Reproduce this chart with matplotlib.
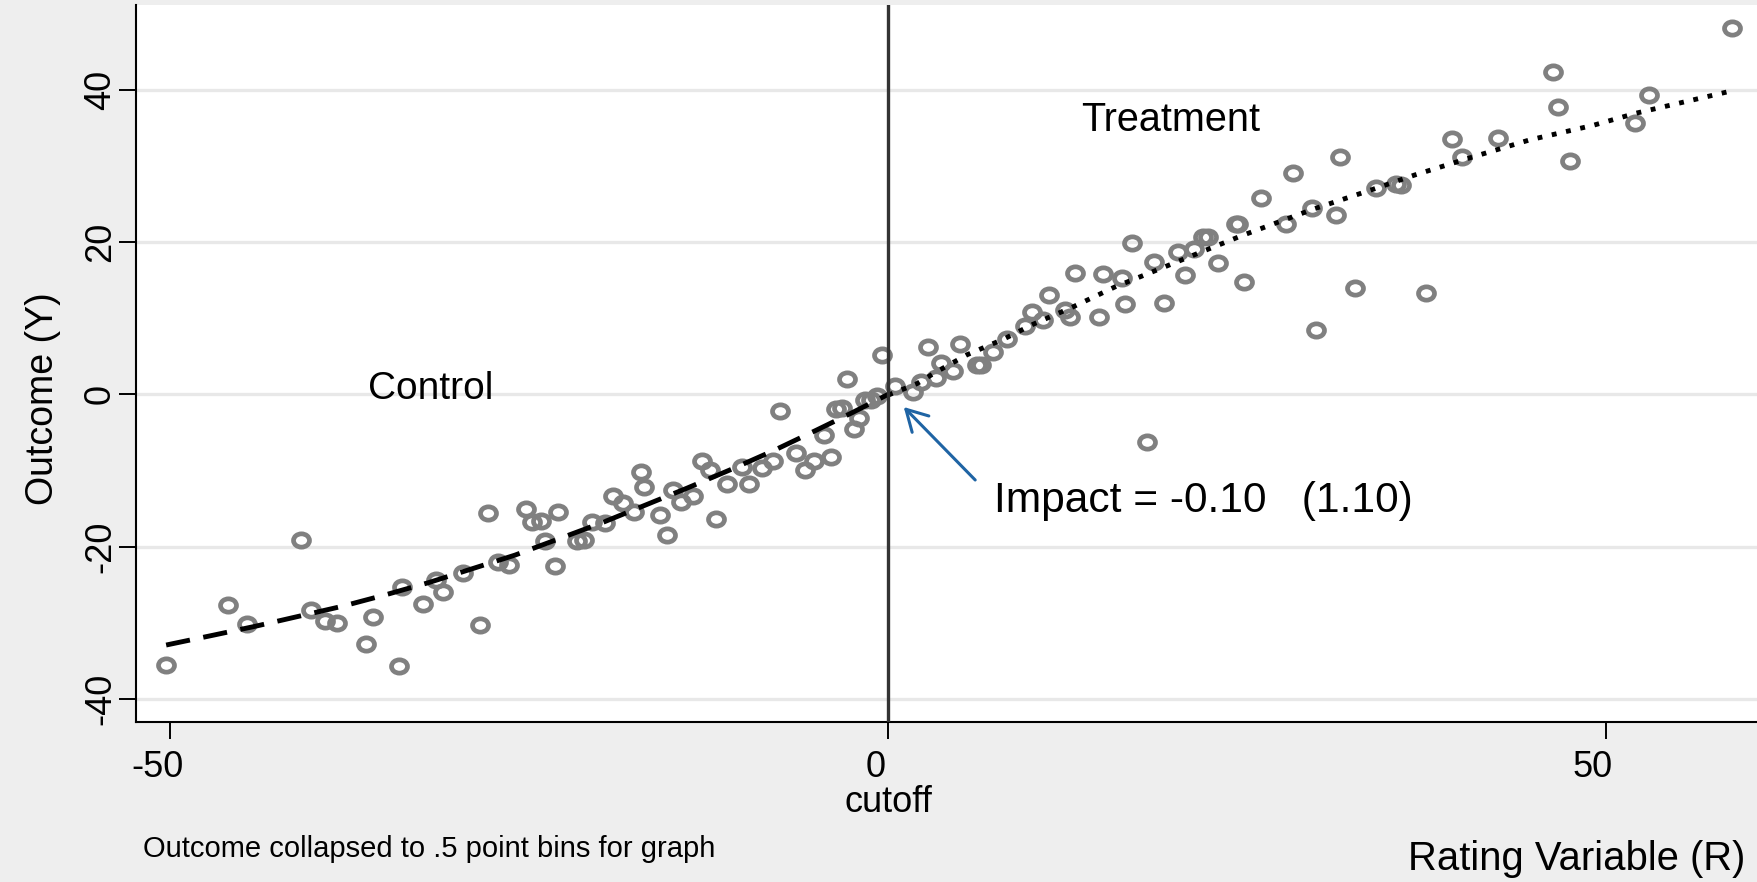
import matplotlib
matplotlib.use("Agg")
import matplotlib.pyplot as plt
import matplotlib.transforms as mtransforms
from matplotlib.path import Path

plt.rcParams['font.family'] = ['Liberation Sans', 'DejaVu Sans']

# binned outcome means, control side (R < 0)
ctrl_x = [-50.3, -46.0, -44.7, -40.9, -40.2, -39.2, -38.4, -36.4, -35.9, -34.1,
          -33.9, -32.4, -31.5, -31.0, -29.6, -28.4, -27.9, -27.2, -26.4, -25.2,
          -24.8, -24.2, -23.9, -23.0, -23.2, -21.7, -21.2, -20.6, -19.7, -19.2,
          -18.5, -17.7, -17.2, -17.0, -15.9, -15.4, -15.0, -14.4, -13.6, -13.0,
          -12.4, -12.0, -11.2, -10.2, -9.7, -8.8, -8.0, -7.5, -6.4, -5.8,
          -5.2, -4.5, -4.0, -3.6, -3.2, -2.9, -2.4, -2.0, -1.6, -1.2,
          -0.8, -0.4]
ctrl_y = [-35.5, -27.6, -30.1, -19.1, -28.3, -29.7, -30.0, -32.7, -29.2, -35.6,
          -25.3, -27.5, -24.4, -25.9, -23.5, -30.3, -15.6, -22.0, -22.4, -15.0,
          -16.7, -16.6, -19.3, -15.5, -22.5, -19.3, -19.1, -16.8, -16.9, -13.3,
          -14.2, -15.4, -10.2, -12.1, -15.8, -18.5, -12.6, -14.1, -13.4, -8.8,
          -9.9, -16.4, -11.8, -9.5, -11.8, -9.7, -8.8, -2.2, -7.7, -9.9,
          -8.8, -5.3, -8.2, -1.9, -1.8, 2.0, -4.6, -3.1, -0.8, -0.7,
          -0.2, 5.2]

# binned outcome means, treatment side (R > 0)
treat_x = [0.5, 1.7, 2.3, 2.8, 3.3, 3.7, 4.5, 5.0, 6.2, 6.5,
           7.3, 8.3, 9.5, 10.0, 10.8, 11.2, 12.3, 12.7, 13.0, 14.7,
           15.0, 16.3, 16.5, 17.0, 18.0, 18.5, 19.2, 20.2, 20.7, 21.3,
           21.9, 22.3, 23.0, 24.2, 24.4, 24.8, 26.0, 27.7, 28.2, 29.5,
           29.8, 31.2, 31.5, 32.5, 34.0, 35.4, 35.7, 37.5, 39.3, 40.0,
           42.5, 46.3, 46.7, 47.5, 52.0, 53.0, 58.8]
treat_y = [1.1, 0.3, 1.6, 6.2, 2.1, 4.1, 3.1, 6.6, 3.8, 3.8,
           5.6, 7.2, 9.0, 10.8, 9.8, 13.0, 11.1, 10.2, 15.9, 10.2,
           15.8, 15.3, 11.8, 19.8, -6.2, 17.4, 12.0, 18.7, 15.7, 19.1,
           20.7, 20.7, 17.3, 22.4, 22.4, 14.8, 25.8, 22.3, 29.0, 24.5,
           8.4, 23.6, 31.1, 13.9, 27.1, 27.6, 27.5, 13.3, 33.5, 31.1,
           33.7, 42.3, 37.7, 30.6, 35.6, 39.3, 48.1]

# fitted regression lines on each side of the cutoff
ctrl_fit_x = [-50.3, -47.0, -44.0, -41.0, -38.0, -35.0, -32.0, -29.0, -26.0, -23.0,
              -20.0, -17.0, -14.0, -11.0, -8.0, -5.0, -2.5, 0.0]
ctrl_fit_y = [-32.9, -31.6, -30.4, -29.1, -27.8, -26.3, -24.7, -22.9, -21.1, -19.0,
              -16.9, -14.6, -12.3, -9.9, -7.4, -4.7, -2.4, 0.0]
treat_fit_x = [0.0, 2.0, 3.4, 5.5, 8.1, 10.1, 12.9, 15.8, 18.7, 21.7,
               24.6, 27.6, 29.6, 33.6, 36.7, 40.8, 44.7, 49.1, 52.1, 58.7]
treat_fit_y = [-0.1, 1.4, 3.0, 5.2, 7.3, 9.2, 11.5, 14.1, 16.3, 18.6,
               20.8, 22.9, 24.3, 26.8, 28.8, 31.2, 33.4, 35.3, 36.9, 39.8]

x_ticks = [-50, 0, 50]
y_ticks = [-40, -20, 0, 20, 40]

W, H = 1758, 882
fig = plt.figure(figsize=(W / 100, H / 100), dpi=100, facecolor='#eeeeee')
ax = fig.add_axes([136 / W, 1 - 722 / H, 1 - 136 / W, (722 - 5) / H])
ax.set_facecolor('white')

ax.set_xlim(-52.4, 60.6)
ax.set_ylim(-43.0, 51.1)

# slightly wide hollow circles like Stata's
circ = Path.unit_circle()
ring = Path(circ.vertices * [1.2, 1.0], circ.codes)
mk = dict(ls='none', marker=ring, ms=11.5, mfc='none', mec='#808080', mew=3.4, zorder=2)
ax.plot(ctrl_x, ctrl_y, **mk)
ax.plot(treat_x, treat_y, **mk)

ax.plot(ctrl_fit_x, ctrl_fit_y, color='black', lw=3.5, dashes=(5.0, 2.8),
        dash_capstyle='butt', zorder=3)
ax.plot(treat_fit_x, treat_fit_y, color='black', lw=3.5, dashes=(1.0, 2.0),
        dash_capstyle='butt', zorder=3)

ax.axvline(0, color='#333333', lw=2.4, zorder=4)

ax.annotate('', xy=(0.95, -1.4), xytext=(6.2, -11.5),
            arrowprops=dict(arrowstyle='->,head_length=0.5,head_width=0.28',
                            color='#1f64a4', lw=2.2, mutation_scale=30), zorder=5)
ax.text(7.4, -14.0, 'Impact = -0.10   (1.10)', fontsize=30.6, va='center', ha='left')
ax.text(19.7, 36.0, 'Treatment', fontsize=28.5, va='center', ha='center')
ax.text(-31.9, 0.7, 'Control', fontsize=28, va='center', ha='center')

ax.set_xticks(x_ticks)
ax.set_yticks(y_ticks)
ax.set_xticklabels([str(v) for v in x_ticks])
ax.set_yticklabels([str(v) for v in y_ticks])
ax.tick_params(axis='both', length=12, width=1.4, color='black', labelsize=26)
ax.tick_params(axis='x', pad=8)
ax.tick_params(axis='y', pad=1)
for lbl in ax.get_yticklabels():
    lbl.set_rotation(90)
    lbl.set_va('center')
shift = mtransforms.ScaledTranslation(-0.13, 0, fig.dpi_scale_trans)
for lbl in ax.get_xticklabels():
    lbl.set_transform(lbl.get_transform() + shift)

ax.grid(axis='y', color='#e8e8e8', lw=2.4, zorder=0)
ax.set_axisbelow(True)

for side in ['top', 'right']:
    ax.spines[side].set_visible(False)
for side in ['left', 'bottom']:
    ax.spines[side].set_linewidth(1.5)
    ax.spines[side].set_color('black')

trans = mtransforms.blended_transform_factory(ax.transData, fig.transFigure)
ax.text(0, 1 - 803 / H, 'cutoff', transform=trans, fontsize=26, ha='center', va='center')

fig.text(43 / W, 1 - 399 / H, 'Outcome (Y)', rotation=90, fontsize=27,
         ha='center', va='center')
fig.text(1745 / W, 1 - 859 / H, 'Rating Variable (R)', fontsize=28.8,
         ha='right', va='center')
fig.text(143 / W, 1 - 849 / H, 'Outcome collapsed to .5 point bins for graph',
         fontsize=21, ha='left', va='center')

fig.savefig('out.png', dpi=100, facecolor=fig.get_facecolor())
